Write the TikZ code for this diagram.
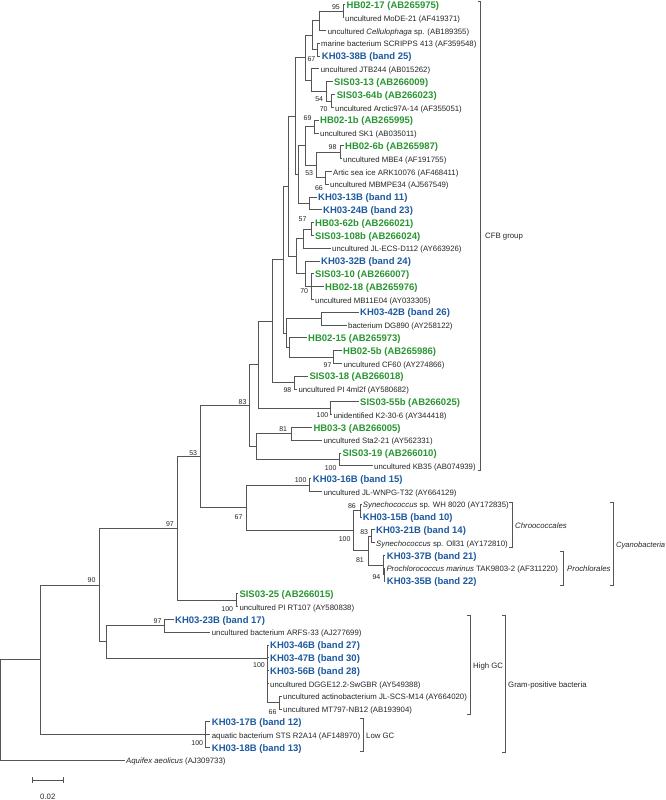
\documentclass[tikz,border=0pt]{standalone}
\usepackage{fontspec}
\setmainfont{Liberation Sans}
\definecolor{tg}{RGB}{40,150,50}
\definecolor{tb}{RGB}{30,90,160}
\definecolor{ln}{RGB}{85,85,85}
\tikzset{
 br/.style={draw=ln, line width=1pt},
 brk/.style={draw=ln, line width=0.9pt},
 lf/.style={anchor=west, inner xsep=1.5pt, inner ysep=0pt, text height=.72em, text depth=0pt, font=\fontsize{7.8}{9}\selectfont, text=black!85},
 lg/.style={lf, font=\fontsize{9.5}{11}\selectfont\bfseries, text=tg},
 lb/.style={lf, font=\fontsize{9.5}{11}\selectfont\bfseries, text=tb},
 bsv/.style={anchor=east, inner sep=0pt, text height=.72em, text depth=0pt, font=\fontsize{7}{8}\selectfont, text=black!85},
 grp/.style={anchor=west, inner sep=0pt, text height=.72em, text depth=0pt, font=\fontsize{7.8}{9}\selectfont, text=black!85},
}
\begin{document}
\begin{tikzpicture}[x=1pt,y=-1pt]
\fill[white] (0,0) rectangle (666,800);
\useasboundingbox (0,0) rectangle (666,800);
% ---------- leaves ----------
\node[lg] (t1) at (345,5) {HB02-17 (AB265975)};
\node[lf] (t2) at (343.5,17.8) {uncultured MoDE-21 (AF419371)};
\node[lf] (t3) at (326.2,30.6) {uncultured \textit{Cellulophaga} sp. (AB189355)};
\node[lf] (t4) at (319.5,43.4) {marine bacterium SCRIPPS 413 (AF359548)};
\node[lb] (t5) at (320.2,56.2) {KH03-38B (band 25)};
\node[lf] (t6) at (319.2,69) {uncultured JTB244 (AB015262)};
\node[lg] (t7) at (332.5,81.8) {SIS03-13 (AB266009)};
\node[lg] (t8) at (335.2,94.6) {SIS03-64b (AB266023)};
\node[lf] (t9) at (333.5,107.4) {uncultured Arctic97A-14 (AF355051)};
\node[lg] (t10) at (318.5,120.2) {HB02-1b (AB265995)};
\node[lf] (t11) at (318.5,133) {uncultured SK1 (AB035011)};
\node[lg] (t12) at (343.5,145.8) {HB02-6b (AB265987)};
\node[lf] (t13) at (341.5,158.6) {uncultured MBE4 (AF191755)};
\node[lf] (t14) at (331.5,171.4) {Artic sea ice ARK10076 (AF468411)};
\node[lf] (t15) at (328.5,184.2) {uncultured MBMPE34 (AJ567549)};
\node[lb] (t16) at (316.5,197) {KH03-13B (band 11)};
\node[lb] (t17) at (321.5,209.8) {KH03-24B (band 23)};
\node[lg] (t18) at (313.5,222.6) {HB03-62b (AB266021)};
\node[lg] (t19) at (313.5,235.4) {SIS03-108b (AB266024)};
\node[lf] (t20) at (330.5,248.2) {uncultured JL-ECS-D112 (AY663926)};
\node[lb] (t21) at (319.5,261) {KH03-32B (band 24)};
\node[lg] (t22) at (313.5,273.8) {SIS03-10 (AB266007)};
\node[lg] (t23) at (323.5,286.6) {HB02-18 (AB265976)};
\node[lf] (t24) at (313.5,299.4) {uncultured MB11E04 (AY033305)};
\node[lb] (t25) at (358.5,312.2) {KH03-42B (band 26)};
\node[lf] (t26) at (346.5,325) {bacterium DG890 (AY258122)};
\node[lg] (t27) at (306.5,337.8) {HB02-15 (AB265973)};
\node[lg] (t28) at (341.5,350.6) {HB02-5b (AB265986)};
\node[lf] (t29) at (341.8,363.4) {uncultured CF60 (AY274866)};
\node[lg] (t30) at (307.8,376.2) {SIS03-18 (AB266018)};
\node[lf] (t31) at (296.8,389) {uncultured PI 4ml2f (AY580682)};
\node[lg] (t32) at (358.5,401.8) {SIS03-55b (AB266025)};
\node[lf] (t33) at (331.8,414.6) {unidentified K2-30-6 (AY344418)};
\node[lg] (t34) at (311.8,427.4) {HB03-3 (AB266005)};
\node[lf] (t35) at (321.8,440.2) {uncultured Sta2-21 (AY562331)};
\node[lg] (t36) at (341,453) {SIS03-19 (AB266010)};
\node[lf] (t37) at (372.5,465.8) {uncultured KB35 (AB074939)};
\node[lb] (t38) at (311.2,478.6) {KH03-16B (band 15)};
\node[lf] (t39) at (321.8,491.4) {uncultured JL-WNPG-T32 (AY664129)};
\node[lf] (t40) at (361.2,504.2) {\textit{Synechococcus} sp. WH 8020 (AY172835)};
\node[lb] (t41) at (361.2,517) {KH03-15B (band 10)};
\node[lb] (t42) at (374.5,529.8) {KH03-21B (band 14)};
\node[lf] (t43) at (374.5,542.6) {\textit{Synechococcus} sp. Oll31 (AY172810)};
\node[lb] (t44) at (385.2,555.4) {KH03-37B (band 21)};
\node[lf] (t45) at (384.8,568.2) {\textit{Prochlorococcus marinus} TAK9803-2 (AF311220)};
\node[lb] (t46) at (385.2,581) {KH03-35B (band 22)};
\node[lg] (t47) at (237.8,593.8) {SIS03-25 (AB266015)};
\node[lf] (t48) at (237.8,606.6) {uncultured PI RT107 (AY580838)};
\node[lb] (t49) at (173.5,619.4) {KH03-23B (band 17)};
\node[lf] (t50) at (210.2,632.2) {uncultured bacterium ARFS-33 (AJ277699)};
\node[lb] (t51) at (268.5,645) {KH03-46B (band 27)};
\node[lb] (t52) at (268.5,657.8) {KH03-47B (band 30)};
\node[lb] (t53) at (268.5,670.6) {KH03-56B (band 28)};
\node[lf] (t54) at (268.5,683.4) {uncultured DGGE12.2-SwGBR (AY549388)};
\node[lf] (t55) at (281.5,696.2) {uncultured actinobacterium JL-SCS-M14 (AY664020)};
\node[lf] (t56) at (281.5,709) {uncultured MT797-NB12 (AB193904)};
\node[lb] (t57) at (210.2,721.8) {KH03-17B (band 12)};
\node[lf] (t58) at (210.2,734.6) {aquatic bacterium STS R2A14 (AF148970)};
\node[lb] (t59) at (210.2,747.4) {KH03-18B (band 13)};
\node[lf] (t60) at (124.5,760.2) {\textit{Aquifex aeolicus} (AJ309733)};
% ---------- internal nodes ----------
\coordinate (n1) at (343.3,11.4);
\coordinate (n2) at (319.3,21);
\coordinate (n3b) at (317,49.8);
\coordinate (n3) at (312.5,35.4);
\coordinate (na) at (331.7,101);
\coordinate (nb) at (326.5,91.4);
\coordinate (nc) at (311.7,80.2);
\coordinate (nd) at (305,57.8);
\coordinate (ne) at (314,126.6);
\coordinate (nf) at (340.5,152.2);
\coordinate (ng) at (325,177.8);
\coordinate (nh) at (316.7,165);
\coordinate (ni) at (305,145.8);
\coordinate (nj) at (309.3,203.4);
\coordinate (nk) at (298.3,174.6);
\coordinate (nl) at (295.5,116.2);
\coordinate (nm) at (311.7,229);
\coordinate (nn) at (303,238.6);
\coordinate (no) at (311.7,286.6);
\coordinate (np) at (305,273.8);
\coordinate (nq) at (296.5,256.2);
\coordinate (nr) at (288.3,186.2);
\coordinate (nDG) at (321.7,318.6);
\coordinate (nCF) at (333.3,357);
\coordinate (nHB) at (289,347.4);
\coordinate (nX) at (286.7,333);
\coordinate (nY) at (283.3,259.6);
\coordinate (nPI) at (294.3,382.6);
\coordinate (nZ) at (272.7,321.1);
\coordinate (nK) at (330.5,408.2);
\coordinate (nW) at (258.3,364.7);
\coordinate (nH3) at (291.7,433.8);
\coordinate (nKB) at (339.5,459.4);
\coordinate (nV) at (256,446.6);
\coordinate (n83) at (249.3,405.6);
\coordinate (nJL) at (309.3,485);
\coordinate (nSy) at (360.5,510.6);
\coordinate (n21) at (371.7,536.2);
\coordinate (n94) at (384,574.6);
\coordinate (n37) at (383,565);
\coordinate (n81) at (368.3,550.6);
\coordinate (nCy) at (353.3,530.6);
\coordinate (n67) at (246.7,507.8);
\coordinate (n53) at (200,456.7);
\coordinate (nRT) at (236,600.2);
\coordinate (n97) at (177,528.5);
\coordinate (n23) at (164,625.8);
\coordinate (nMT) at (279,702.6);
\coordinate (nHG) at (267.5,658);
\coordinate (nGP) at (106,641.9);
\coordinate (n90) at (99,585.2);
\coordinate (nLG) at (205,734.6);
\coordinate (n40) at (40,659.9);
\coordinate (root) at (0.8,710);
% ---------- branches ----------
\foreach \p/\cl in {n1/{t1.west,t2.west}, n2/{n1,t3.west}, n3b/{t4.west,t5.west}, n3/{n2,n3b},
 na/{t8.west,t9.west}, nb/{t7.west,na}, nc/{t6.west,nb}, nd/{n3,nc},
 ne/{t10.west,t11.west}, nf/{t12.west,t13.west}, ng/{t14.west,t15.west}, nh/{nf,ng}, ni/{ne,nh},
 nj/{t16.west,t17.west}, nk/{ni,nj}, nl/{nd,nk},
 nm/{t18.west,t19.west}, nn/{nm,t20.west}, no/{t22.west,t23.west,t24.west}, np/{t21.west,no}, nq/{nn,np}, nr/{nl,nq},
 nDG/{t25.west,t26.west}, nCF/{t28.west,t29.west}, nHB/{t27.west,nCF}, nX/{nDG,nHB}, nY/{nr,nX},
 nPI/{t30.west,t31.west}, nZ/{nY,nPI}, nK/{t32.west,t33.west}, nW/{nZ,nK},
 nH3/{t34.west,t35.west}, nKB/{t36.west,t37.west}, nV/{nH3,nKB}, n83/{nW,nV},
 nJL/{t38.west,t39.west}, nSy/{t40.west,t41.west}, n21/{t42.west,t43.west}, n94/{t45.west,t46.west},
 n37/{t44.west,n94}, n81/{n21,n37}, nCy/{nSy,n81}, n67/{nJL,nCy}, n53/{n83,n67},
 nRT/{t47.west,t48.west}, n97/{n53,nRT}, n23/{t49.west,t50.west}, nMT/{t55.west,t56.west},
 nHG/{t51.west,t52.west,t53.west,t54.west,nMT}, nGP/{n23,nHG}, n90/{n97,nGP},
 nLG/{t57.west,t58.west,t59.west}, n40/{n90,nLG}, root/{n40,t60.west}}
 { \foreach \c in \cl { \draw[br] (\p) |- (\c); } }
% ---------- bootstrap values ----------
\node[bsv] (b1) at (340,6) {95};
\node[bsv] (b2) at (315.5,57.5) {67};
\node[bsv] (b3) at (323.3,98.3) {54};
\node[bsv] (b4) at (327.8,107.5) {70};
\node[bsv] (b5) at (311.7,117.3) {69};
\node[bsv] (b6) at (336.7,146) {98};
\node[bsv] (b7) at (313.3,172.3) {53};
\node[bsv] (b8) at (323,186.5) {66};
\node[bsv] (b9) at (306.7,218.3) {57};
\node[bsv] (b10) at (308.3,290) {70};
\node[bsv] (b11) at (331.7,363.6) {97};
\node[bsv] (b12) at (291.5,389.3) {98};
\node[bsv] (b13) at (328.5,413.6) {100};
\node[bsv] (b14) at (287.3,427.7) {81};
\node[bsv] (b15) at (336.7,466.7) {100};
\node[bsv] (b16) at (246.7,400.7) {83};
\node[bsv] (b17) at (197.3,451.7) {53};
\node[bsv] (b18) at (174,523.3) {97};
\node[bsv] (b19) at (95.7,579.3) {90};
\node[bsv] (b20) at (306.7,479.3) {100};
\node[bsv] (b21) at (242.7,516) {67};
\node[bsv] (b22) at (356,505) {86};
\node[bsv] (b23) at (350.7,538.3) {100};
\node[bsv] (b24) at (368.3,530.7) {83};
\node[bsv] (b25) at (364,559.3) {81};
\node[bsv] (b26) at (380.5,575.5) {94};
\node[bsv] (b27) at (233.3,607.7) {100};
\node[bsv] (b28) at (161.7,620) {97};
\node[bsv] (b29) at (265,664.3) {100};
\node[bsv] (b30) at (276.7,710.5) {66};
\node[bsv] (b31) at (203.3,742.3) {100};
% ---------- group brackets ----------
\coordinate (cfb1) at (480.7,1.5); \coordinate (cfb2) at (480.7,470);
\coordinate (chr1) at (512,502); \coordinate (chr2) at (512,547);
\coordinate (pro1) at (563,551); \coordinate (pro2) at (563,585.5);
\coordinate (cya1) at (613,502); \coordinate (cya2) at (613,585.5);
\coordinate (hgc1) at (470,615); \coordinate (hgc2) at (470,714);
\coordinate (gp1) at (505,615); \coordinate (gp2) at (505,752);
\coordinate (lgc1) at (363,718); \coordinate (lgc2) at (363,751);
\foreach \a/\b in {cfb1/cfb2, chr1/chr2, pro1/pro2, cya1/cya2, hgc1/hgc2, gp1/gp2, lgc1/lgc2}
 { \draw[brk] ([xshift=-3pt]\a) -- (\a) -- (\b) -- ([xshift=-3pt]\b); }
\node[grp] (g1) at (485,235) {CFB group};
\node[grp] (g2) at (515,524.5) {\textit{Chroococcales}};
\node[grp] (g3) at (567,568) {\textit{Prochlorales}};
\node[grp, font=\fontsize{7.6}{9}\selectfont] (g4) at (616,543.5) {\textit{Cyanobacteria}};
\node[grp] (g5) at (473,664.5) {High GC};
\node[grp] (g6) at (508,683.5) {Gram-positive bacteria};
\node[grp] (g7) at (366,734.5) {Low GC};
% ---------- scale bar ----------
\coordinate (sb1) at (32.3,780); \coordinate (sb2) at (63.3,780);
\draw[brk] (sb1) -- (sb2);
\draw[brk] ([yshift=3pt]sb1) -- ([yshift=-3pt]sb1);
\draw[brk] ([yshift=3pt]sb2) -- ([yshift=-3pt]sb2);
\node[grp, anchor=center] (sbl) at (47.8,795.5) {0.02};
\end{tikzpicture}
\end{document}
